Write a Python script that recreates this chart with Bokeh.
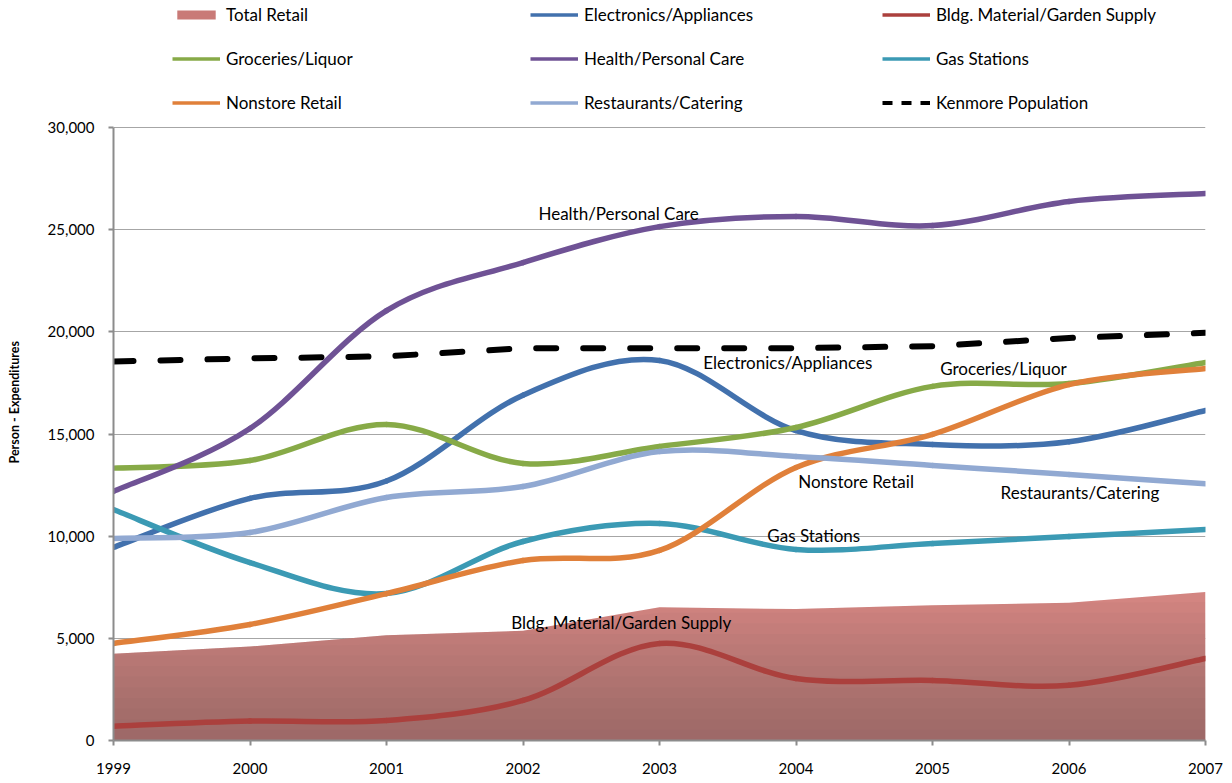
import numpy as np
from bokeh.plotting import figure
from bokeh.models import (ColumnDataSource, FixedTicker, NumeralTickFormatter,
                          Legend, LegendItem, Title)
from bokeh.core.properties import value
from bokeh.embed import file_html
from bokeh.resources import INLINE

# ---------------- data ----------------
years = [1999, 2000, 2001, 2002, 2003, 2004, 2005, 2006, 2007]
total_retail = [4250, 4600, 5150, 5370, 6520, 6430, 6620, 6740, 7270]
electronics = [9450, 11850, 12700, 16900, 18600, 15170, 14490, 14620, 16150]
bldg_material = [700, 950, 980, 1960, 4750, 3030, 2940, 2700, 4010]
groceries = [13330, 13700, 15470, 13560, 14390, 15320, 17330, 17470, 18500]
health = [12190, 15270, 21040, 23390, 25150, 25650, 25200, 26380, 26770]
gas_stations = [11300, 8710, 7190, 9740, 10620, 9350, 9640, 9980, 10330]
nonstore = [4750, 5680, 7190, 8810, 9300, 13360, 14980, 17420, 18210]
restaurants = [9890, 10180, 11890, 12430, 14140, 13900, 13460, 13020, 12560]
population = [18550, 18700, 18800, 19200, 19200, 19200, 19300, 19700, 19950]

series_names = ["Electronics/Appliances", "Bldg. Material/Garden Supply",
                "Groceries/Liquor", "Health/Personal Care", "Gas Stations",
                "Nonstore Retail", "Restaurants/Catering"]
series_values = [electronics, bldg_material, groceries, health, gas_stations,
                 nonstore, restaurants]
series_colors = ["#4271ad", "#ab403d", "#87aa47", "#6f5295", "#3b9ab4",
                 "#e0803a", "#91a9d2"]

label_texts = ["Health/Personal Care", "Electronics/Appliances", "Groceries/Liquor",
               "Nonstore Retail", "Restaurants/Catering", "Gas Stations",
               "Bldg. Material/Garden Supply"]
label_x = [2002.70, 2003.94, 2005.52, 2004.44, 2006.08, 2004.13, 2002.72]
label_y = [25790, 18500, 18200, 12680, 12140, 10030, 5770]

y_ticks = [0, 5000, 10000, 15000, 20000, 25000, 30000]
y_title = "Person - Expenditures"

FONT = "Lato"


def smooth_segments(xs, ys):
    """Bezier control points (Excel-like smoothing) for consecutive points."""
    xs = np.asarray(xs, float)
    ys = np.asarray(ys, float)
    n = len(xs)
    d = dict(x0=[], y0=[], x1=[], y1=[], cx0=[], cy0=[], cx1=[], cy1=[])
    for i in range(n - 1):
        im = max(i - 1, 0)
        ip = min(i + 2, n - 1)
        d["x0"].append(xs[i]); d["y0"].append(ys[i])
        d["x1"].append(xs[i + 1]); d["y1"].append(ys[i + 1])
        d["cx0"].append(xs[i] + (xs[i + 1] - xs[im]) / 6.0)
        d["cy0"].append(ys[i] + (ys[i + 1] - ys[im]) / 6.0)
        d["cx1"].append(xs[i + 1] - (xs[ip] - xs[i]) / 6.0)
        d["cy1"].append(ys[i + 1] - (ys[ip] - ys[i]) / 6.0)
    return ColumnDataSource(d)


FRAME_H = 740
Y_END = 30000 * FRAME_H / 613.0   # leave room for the legend above 30,000

p = figure(frame_width=1092, frame_height=FRAME_H, x_range=(1999, 2007),
           y_range=(0, Y_END), output_backend="svg", toolbar_location=None,
           min_border_left=113, min_border_top=0, min_border_right=19,
           min_border_bottom=30)
p.outline_line_color = None
p.background_fill_color = "white"

# axes
for ax in (p.xaxis[0], p.yaxis[0]):
    ax.axis_line_color = "#8c8c8c"
    ax.axis_line_width = 2
    ax.major_tick_line_color = "#8c8c8c"
    ax.major_tick_line_width = 2
    ax.major_tick_out = 5
    ax.major_tick_in = 0
    ax.minor_tick_line_color = None
    ax.major_label_text_font = FONT
    ax.major_label_text_font_size = "15px"
    ax.major_label_text_color = "#000000"

p.xaxis.ticker = FixedTicker(ticks=years)
p.xaxis.major_label_standoff = 17
p.yaxis.ticker = FixedTicker(ticks=y_ticks)
p.yaxis.bounds = (0, 30000)
p.yaxis.formatter = NumeralTickFormatter(format="0,0")
p.yaxis.major_label_standoff = 14
# blank axis label only reserves a little room between tick labels and title
p.yaxis.axis_label = " "
p.yaxis.axis_label_text_font_size = "10px"
p.yaxis.axis_label_standoff = 5

# y axis title (positioned along the 0..30,000 part of the axis)
yt = Title(text=y_title, align="left", offset=277, standoff=8,
           text_font=FONT, text_font_size="12.5px", text_font_style="bold",
           text_color="#000000")
p.add_layout(yt, "left")

p.xgrid.grid_line_color = None
p.ygrid.grid_line_color = "#a6a6a6"
p.ygrid.grid_line_width = 1

# total retail area with vertical gradient (layered translucent bands)
area_src = ColumnDataSource(dict(x=years, y=total_retail))
p.varea(x="x", y1=0, y2="y", source=area_src, fill_color="#d98884", fill_alpha=1)
N = 14
tr = np.asarray(total_retail, float)
for k in range(1, N + 1):
    h = 7300.0 * k / N
    p.varea(x=years, y1=0, y2=np.minimum(tr, h), fill_color="#64504e",
            fill_alpha=0.048)

# population dashed line
p.line(years, population, line_color="#000000", line_width=6,
       line_dash="20 27", line_cap="round")

# smoothed series
for vals, col in zip(series_values, series_colors):
    src = smooth_segments(years, vals)
    p.bezier(x0="x0", y0="y0", x1="x1", y1="y1", cx0="cx0", cy0="cy0",
             cx1="cx1", cy1="cy1", source=src, line_color=col, line_width=5.5,
             line_cap="round")

# data labels
p.text(x=label_x, y=label_y, text=label_texts, text_align="center",
       text_baseline="middle", text_font=value(FONT), text_font_size="17px",
       text_color="#000000")

# legend proxies (single-point renderers that draw nothing in the plot)
prox_area = p.quad(left=years[:1], right=years[:1], top=[0], bottom=[0],
                   fill_color="#c97a77", line_color=None)
prox = {}
for name, col, vals in zip(series_names, series_colors, series_values):
    prox[name] = p.line(years[:1], vals[:1], line_color=col, line_width=3.5,
                        line_cap="butt")
prox_pop = p.line(years[:1], population[:1], line_color="#000000",
                  line_width=4, line_dash="10 9", line_cap="butt")

columns = [
    [("Total Retail", prox_area), ("Groceries/Liquor", prox["Groceries/Liquor"]),
     ("Nonstore Retail", prox["Nonstore Retail"])],
    [("Electronics/Appliances", prox["Electronics/Appliances"]),
     ("Health/Personal Care", prox["Health/Personal Care"]),
     ("Restaurants/Catering", prox["Restaurants/Catering"])],
    [("Bldg. Material/Garden Supply", prox["Bldg. Material/Garden Supply"]),
     ("Gas Stations", prox["Gas Stations"]),
     ("Kenmore Population", prox_pop)],
]
col_x = [59, 417, 769]
for items, cx in zip(columns, col_x):
    lg = Legend(items=[LegendItem(label=l, renderers=[r], index=0) for l, r in items],
                location=(cx, 627), orientation="vertical",
                padding=0, margin=0, spacing=23, label_height=20,
                glyph_height=11, glyph_width=48, label_standoff=6,
                border_line_color=None, background_fill_alpha=0,
                label_text_font=FONT, label_text_font_size="17px",
                label_text_color="#000000")
    p.add_layout(lg, "center")

open("out.html", "w").write(file_html(p, INLINE))
